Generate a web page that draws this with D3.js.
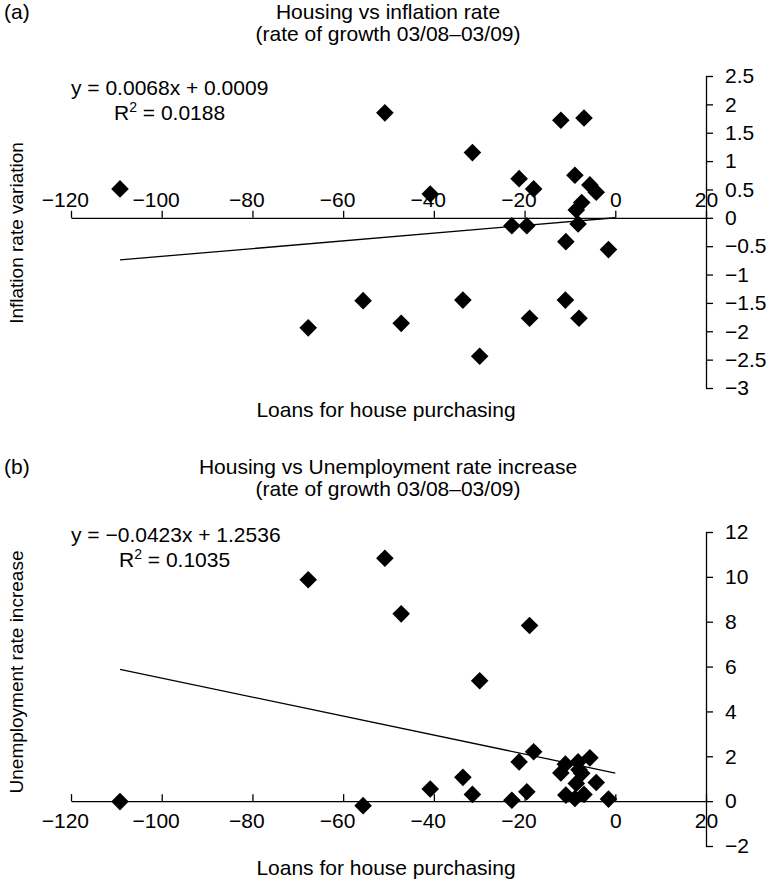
<!DOCTYPE html>
<html>
<head>
<meta charset="utf-8">
<script src="https://cdn.jsdelivr.net/npm/d3@7"></script>
<style>
  body { margin: 0; background: #fff; }
  svg text { font-family: "Liberation Sans", Arial, Helvetica, sans-serif; fill: #000; }
</style>
</head>
<body>
<svg id="chart" width="770" height="881"></svg>
<script>
// Loans for house purchasing (rate of growth 03/08–03/09), one value per country
const loans = [-109.2, -67.7, -55.6, -50.8, -47.2, -40.8, -33.6, -31.5, -29.9, -22.8,
               -21.2, -19.5, -18.9, -18.0, -12.0, -11.0, -10.9, -8.9, -8.6, -8.2,
               -8.0, -7.4, -6.9, -5.6, -4.2, -1.5];
// Inflation rate variation, same country order
const inflation = [0.51, -1.94, -1.46, 1.85, -1.86, 0.42, -1.45, 1.15, -2.44, -0.14,
                   0.69, -0.14, -1.77, 0.51, 1.72, -1.45, -0.42, 0.75, 0.14, -0.11,
                   -1.77, 0.27, 1.76, 0.58, 0.45, -0.56];
// Unemployment rate increase, same country order
const unemployment = [-0.02, 9.87, -0.20, 10.83, 8.35, 0.54, 1.06, 0.30, 5.37, 0.04,
                      1.75, 0.42, 7.83, 2.20, 1.26, 1.65, 0.27, 0.12, 0.79, 1.75,
                      1.40, 1.24, 0.30, 1.93, 0.83, 0.09];

// Linear trend lines (slope, intercept, R²)
const inflationTrend = [0.0068, 0.0009, 0.0188];
const unemploymentTrend = [-0.0423, 1.2536, 0.1035];
const trendSpan = [-109.2, 0];

// Axis ticks
const loanTicks = [-120, -100, -80, -60, -40, -20, 0, 20];
const inflationTicks = [-3, -2.5, -2, -1.5, -1, -0.5, 0, 0.5, 1, 1.5, 2, 2.5];
const unemploymentTicks = [-2, 0, 2, 4, 6, 8, 10, 12];

const svg = d3.select("#chart");
const FS = 21;      // horizontal text
const FS_V = 19;    // rotated axis titles
const fmt = d3.format("~g");
const fmtCoef = d3.format(".4f");

// width of the digits of a label, used so negative labels hang their minus sign
function digitWidth(str) {
  const t = svg.append("text").attr("font-size", FS).text(str);
  const w = t.node().getComputedTextLength();
  t.remove();
  return w;
}
function hangMinus(sel) {
  sel.selectAll(".tick text").each(function(d) {
    if (d < 0) {
      const w = digitWidth(fmt(Math.abs(d)));
      d3.select(this).attr("text-anchor", "end").attr("x", w / 2);
    }
  });
}

function panel(opt) {
  const g = svg.append("g");
  const x = d3.scaleLinear().domain([-120, 20]).range([71, 706]);
  const y = d3.scaleLinear().domain(opt.yDomain).range(opt.yRange);

  // panel letter and titles
  g.append("text").attr("x", 4).attr("y", opt.titleY).attr("font-size", FS).text(opt.letter);
  g.append("text").attr("x", 388).attr("y", opt.titleY).attr("font-size", FS)
    .attr("text-anchor", "middle").text(opt.title);
  g.append("text").attr("x", 388).attr("y", opt.titleY + 22).attr("font-size", FS)
    .attr("text-anchor", "middle").text("(rate of growth 03/08–03/09)");

  // right-hand value axis
  const ya = g.append("g").attr("transform", `translate(${x(20)},0)`)
    .call(d3.axisRight(y).tickValues(opt.yTicks).tickFormat(fmt)
      .tickSize(7).tickSizeOuter(0).tickPadding(12));
  ya.selectAll("text").attr("font-size", FS).attr("font-family", null);

  // category axis crossing at zero
  const axisGen = opt.labelsAbove
    ? d3.axisTop(x).tickSize(7).tickPadding(4)
    : d3.axisBottom(x).tickSizeInner(-7).tickPadding(12);
  const xa = g.append("g").attr("transform", `translate(0,${y(0)})`)
    .call(axisGen.tickValues(loanTicks).tickFormat(fmt).tickSizeOuter(0));
  xa.selectAll("text").attr("font-size", FS).attr("font-family", null);
  hangMinus(xa);

  [ya, xa].forEach(a => {
    a.selectAll("path, line").attr("stroke", "#000").attr("stroke-width", 1.3);
  });

  // trend line
  const [m, b, r2] = opt.trend;
  g.append("path")
    .attr("d", d3.line().x(d => x(d)).y(d => y(m * d + b))(trendSpan))
    .attr("stroke", "#000").attr("stroke-width", 1.3).attr("fill", "none");

  // data points
  const diamond = d3.symbol(d3.symbolSquare, 155);
  g.append("g").selectAll("path").data(loans.map((v, i) => [v, opt.values[i]]))
    .join("path")
    .attr("d", diamond)
    .attr("transform", d => `translate(${x(d[0])},${y(d[1])}) rotate(45)`)
    .attr("fill", "#000");

  // regression equation
  const eq = g.append("text").attr("x", 71).attr("y", opt.eqY).attr("font-size", FS);
  eq.text(`y = ${fmtCoef(m)}x + ${fmtCoef(b)}`);
  const rt = g.append("text").attr("x", opt.rX).attr("y", opt.eqY + 25).attr("font-size", FS);
  rt.append("tspan").text("R");
  rt.append("tspan").attr("dy", -8).attr("font-size", 14).text("2");
  rt.append("tspan").attr("dy", 8).text(` = ${fmtCoef(r2)}`);

  // axis titles
  g.append("text").attr("font-size", FS_V).attr("text-anchor", "middle")
    .attr("transform", `translate(23,${opt.yTitleY}) rotate(-90)`).text(opt.yTitle);
  g.append("text").attr("font-size", FS).attr("text-anchor", "middle")
    .attr("x", 386).attr("y", opt.xTitleY).text("Loans for house purchasing");
}

panel({
  letter: "(a)", title: "Housing vs inflation rate", titleY: 19,
  yDomain: [-3, 2.5], yRange: [388, 76], yTicks: inflationTicks,
  values: inflation, trend: inflationTrend, labelsAbove: true,
  eqY: 95, rX: 114, yTitle: "Inflation rate variation", yTitleY: 233, xTitleY: 417
});
panel({
  letter: "(b)", title: "Housing vs Unemployment rate increase", titleY: 474,
  yDomain: [-2, 12], yRange: [846, 532], yTicks: unemploymentTicks,
  values: unemployment, trend: unemploymentTrend, labelsAbove: false,
  eqY: 542, rX: 119, yTitle: "Unemployment rate increase", yTitleY: 672, xTitleY: 875
});
</script>
</body>
</html>
